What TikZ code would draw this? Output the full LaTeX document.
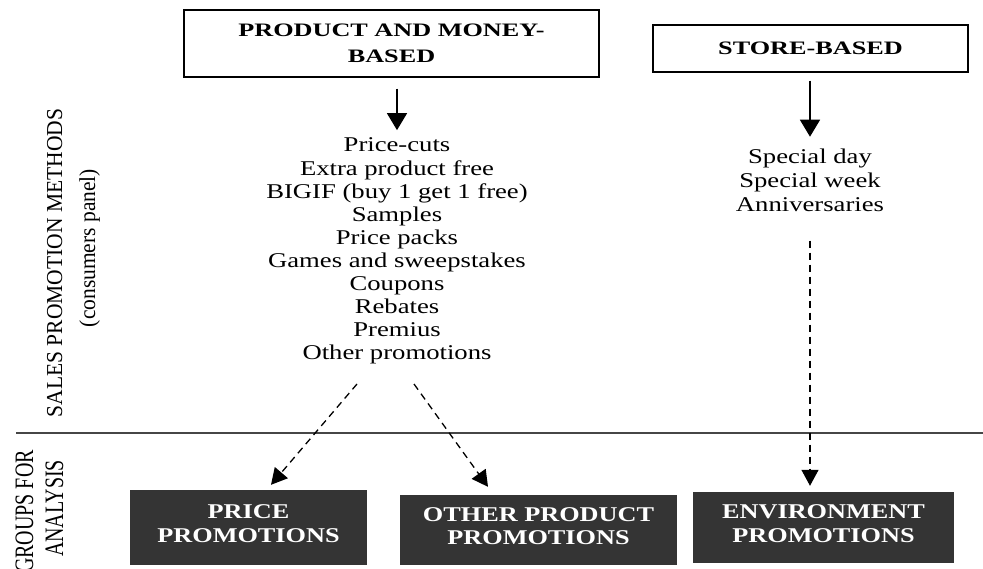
\documentclass[tikz,border=0pt]{standalone}
\usepackage{graphicx}
\usepackage{fontspec}
\setmainfont{Liberation Serif}
\newfontfamily\listfont{Liberation Serif}[FakeStretch=1.27]
\newfontfamily\topboldfont{Liberation Serif}[FakeStretch=1.38]
\newfontfamily\boxboldfont{Liberation Serif}[FakeStretch=1.25]
\usetikzlibrary{arrows.meta}
\definecolor{darkfill}{RGB}{52,52,52}
\definecolor{rulegray}{RGB}{70,70,70}
\begin{document}
\begin{tikzpicture}[x=1pt,y=-1pt,
  topbox/.style={draw=black, line width=1.3pt, fill=white, align=center, inner sep=0pt,
    font=\topboldfont\bfseries\fontsize{19}{26}\selectfont},
  darkbox/.style={draw=none, fill=darkfill, text=white, align=center, inner sep=0pt, text depth=8pt,
    font=\boxboldfont\bfseries\fontsize{21}{23.5}\selectfont},
  listtext/.style={align=center, inner sep=0pt, font=\listfont\fontsize{21}{23.1}\selectfont},
  sidelabel/.style={rotate=90, anchor=base, inner sep=0pt, font=\fontsize{21.5}{24}\selectfont},
  solidarrow/.style={line width=1.5pt, -{Triangle[width=20pt,length=17pt]}},
  dasharrow/.style={line width=1.3pt, dash pattern=on 7pt off 5pt, -{Triangle[width=17pt,length=16pt]}},
]
\fill[white] (0,0) rectangle (983,569);
\useasboundingbox (0,0) rectangle (983,569);

% top boxes
\node[topbox, minimum width=415pt, minimum height=67pt] (pm) at (391.5,43.5) {PRODUCT AND MONEY-\\BASED};
\node[topbox, minimum width=315pt, minimum height=47pt] (sb) at (810.5,48.5) {STORE-BASED};

% lists
\node[listtext] (plist) at (397,251.2) {Price-cuts\\Extra product free\\BIGIF (buy 1 get 1 free)\\Samples\\Price packs\\Games and sweepstakes\\Coupons\\Rebates\\Premius\\Other promotions};
\node[listtext, font=\listfont\fontsize{21}{24}\selectfont] (slist) at (810,180) {Special day\\Special week\\Anniversaries};

% bottom boxes
\node[darkbox, minimum width=237pt, minimum height=75pt] (price) at (248.5,527.5) {PRICE\\PROMOTIONS};
\node[darkbox, minimum width=277pt, minimum height=70pt] (other) at (538.5,530) {OTHER PRODUCT\\PROMOTIONS};
\node[darkbox, minimum width=261pt, minimum height=71pt] (env) at (823.5,527.5) {ENVIRONMENT\\PROMOTIONS};

% separator
\coordinate (hl) at (16,433);
\coordinate (hr) at (983,433);
\draw[line width=1.5pt, rulegray] (hl) -- (hr);

% side labels
\node[sidelabel] (sales) at (62,263) {\scalebox{1}[1.06]{SALES PROMOTION METHODS}};
\node[sidelabel] (cons) at (95,248) {\scalebox{1}[1.06]{(consumers panel)}};
\node[sidelabel, font=\fontsize{20}{24}\selectfont] (groups) at (33,511.5) {\scalebox{1}[1.33]{GROUPS FOR}};
\node[sidelabel, font=\fontsize{20}{24}\selectfont] (analysis) at (63,508.5) {\scalebox{1}[1.33]{ANALYSIS}};

% arrows
\draw[solidarrow, shorten <=11pt, shorten >=7.7pt] (pm.south -| plist) -- (plist.north);
\draw[solidarrow, shorten <=8pt, shorten >=11.7pt] (sb.south -| slist) -- (slist.north);

\coordinate (d1) at (357,384);
\coordinate (d2) at (414,384);
\draw[dasharrow] (d1) -- ([xshift=22.5pt,yshift=5pt]price.north);
\draw[dasharrow] (d2) -- ([xshift=-50.5pt,yshift=8pt]other.north);
\draw[dasharrow, shorten <=29pt, shorten >=6pt] (slist.south) -- (slist.south |- env.north);
\end{tikzpicture}
\end{document}
